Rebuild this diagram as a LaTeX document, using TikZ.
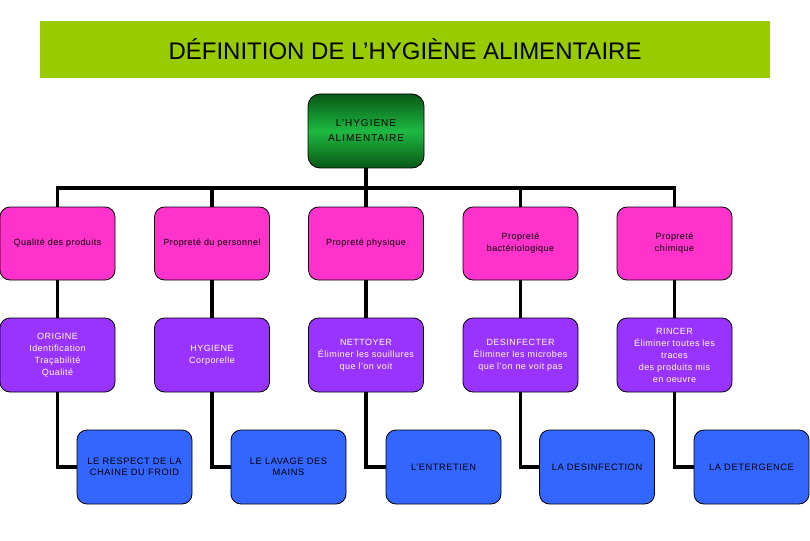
\documentclass[tikz,border=0pt]{standalone}
\usepackage{fontspec}
\setmainfont{Liberation Sans}
\definecolor{titlegreen}{RGB}{153,204,0}
\definecolor{pinkbox}{RGB}{255,51,204}
\definecolor{purplebox}{RGB}{153,51,255}
\definecolor{bluebox}{RGB}{51,102,255}
\definecolor{darkgr}{RGB}{8,88,22}
\definecolor{brightgr}{RGB}{30,185,65}
\begin{document}
\begin{tikzpicture}[x=1pt,y=-1pt,
  box/.style={draw=black, line width=0.8pt, rounded corners=10pt,
    minimum width=115pt, minimum height=74pt, align=center, inner sep=2pt,
    font=\fontsize{9}{12}\selectfont\addfontfeatures{LetterSpace=5}},
  pinkst/.style={box, fill=pinkbox, minimum height=73pt, text=black},
  purplest/.style={box, fill=purplebox, text=white},
  bluest/.style={box, fill=bluebox, text=black,
    font=\fontsize{9.3}{11.5}\selectfont\addfontfeatures{LetterSpace=6}},
  conn/.style={line width=3.5pt, draw=black}]
\useasboundingbox (0,0) rectangle (810,540);
\fill[white] (0,0) rectangle (810,540);

\node[fill=titlegreen, minimum width=730pt, minimum height=57pt, inner sep=0pt] (title) at (405,49.5)
  {\fontsize{24}{28}\selectfont DÉFINITION DE L’HYGIÈNE ALIMENTAIRE};

\node[box, rounded corners=12pt, minimum width=116pt, top color=darkgr, bottom color=darkgr,
  middle color=brightgr, text=black,
  font=\fontsize{10}{15}\selectfont\addfontfeatures{LetterSpace=10}] (root) at (366,131)
  {L'HYGIENE\\ALIMENTAIRE};

\node[pinkst] (p1) at (57.5,243.5) {Qualité des produits};
\node[pinkst] (p2) at (212,243.5) {Propreté du personnel};
\node[pinkst] (p3) at (366,243.5) {Propreté physique};
\node[pinkst] (p4) at (520.5,243.5) {Propreté\\bactériologique};
\node[pinkst] (p5) at (674.5,243.5) {Propreté\\chimique};

\node[purplest] (q1) at (57.5,355) {ORIGINE\\Identification\\Traçabilité\\Qualité};
\node[purplest] (q2) at (212,355) {HYGIENE\\Corporelle};
\node[purplest] (q3) at (366,355) {NETTOYER\\Éliminer les souillures\\que l’on voit};
\node[purplest] (q4) at (520.5,355) {DESINFECTER\\Éliminer les microbes\\que l’on ne voit pas};
\node[purplest] (q5) at (674.5,355) {RINCER\\Éliminer toutes les\\traces\\des produits mis\\en oeuvre};

\node[bluest] (b1) at (134.5,467) {LE RESPECT DE LA\\CHAINE DU FROID};
\node[bluest] (b2) at (288.5,467) {LE LAVAGE DES\\MAINS};
\node[bluest] (b3) at (443.5,467) {L’ENTRETIEN};
\node[bluest] (b4) at (597,467) {LA DESINFECTION};
\node[bluest] (b5) at (751.5,467) {LA DETERGENCE};

\coordinate (bus) at (0,188);
\foreach \i in {1,...,5}{
  \draw[conn] (root.south) -- (root.south |- bus) -| (p\i.north);
  \draw[conn] (p\i.south) -- (q\i.north);
  \draw[conn] (q\i.south) |- (b\i.west);
}
\end{tikzpicture}
\end{document}
